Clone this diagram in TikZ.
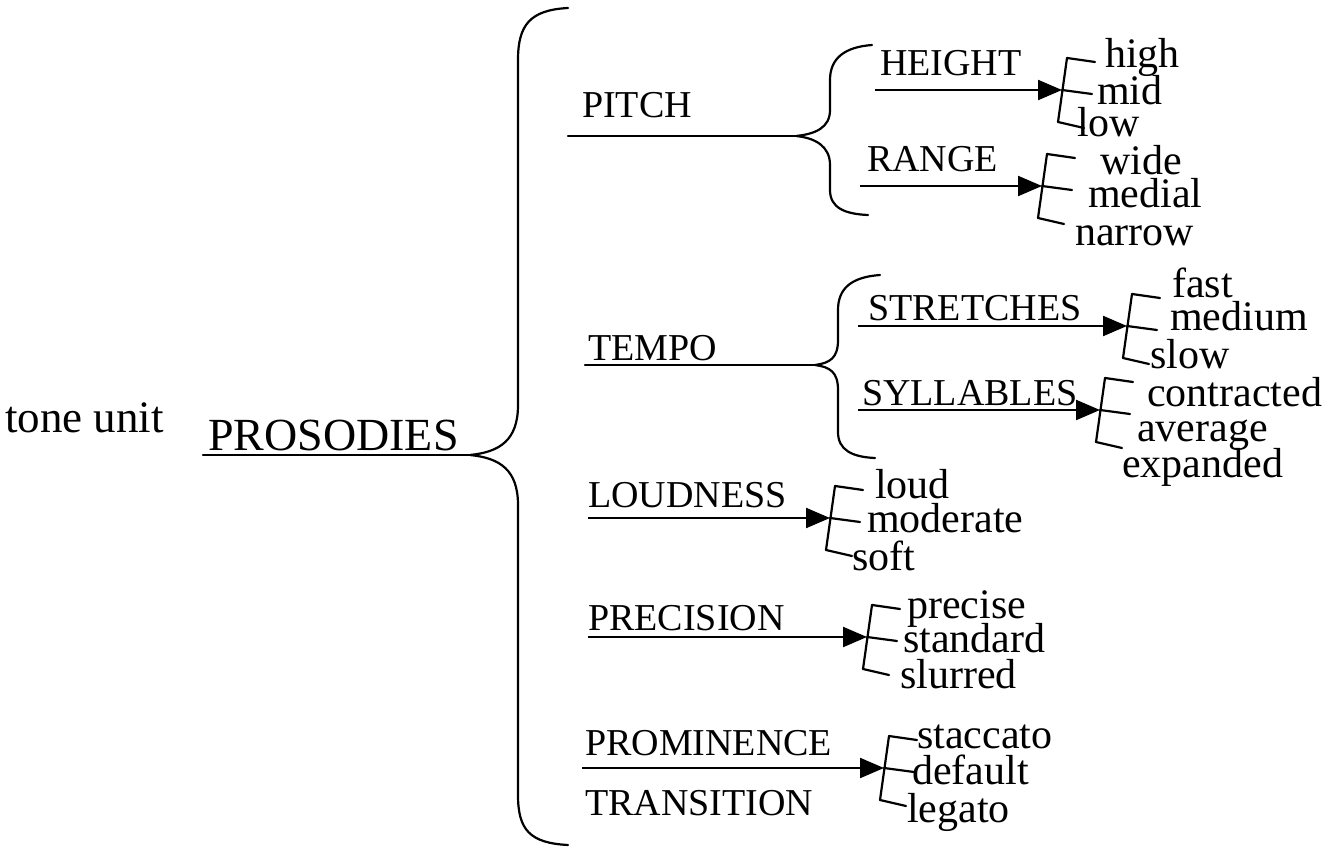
\documentclass[tikz,border=0pt]{standalone}
\usepackage{fontspec}
\setmainfont{Liberation Serif}
\usetikzlibrary{arrows.meta}
\newcommand\mybrk[2]{%
  \draw[ln] (#1+5,#2-32) -- (#1-4,#2+32);
  \draw[ln] (#1+5,#2-32) -- (#1+33,#2-28);
  \draw[ln] (#1,#2) -- (#1+30,#2+4);
  \draw[ln] (#1-4,#2+32) -- (#1+22,#2+38);}
\begin{document}
\begin{tikzpicture}[x=1pt,y=-1pt,
  ln/.style={line width=2.2pt,line cap=round, line join=round},
  arr/.style={line width=2.2pt,-{Triangle[length=24pt,width=20pt]}},
  caplbl/.style={anchor=base west,inner sep=0pt,font=\fontsize{38}{38}\selectfont},
  val/.style={anchor=base west,inner sep=0pt,font=\fontsize{42}{42}\selectfont}]
\useasboundingbox (0,0) rectangle (1328,853);
\node[anchor=base west,inner sep=0pt,font=\fontsize{45}{45}\selectfont] (tu) at (5,432) {tone unit};
\node[anchor=base west,inner sep=0pt,font=\fontsize{46}{46}\selectfont] (pr) at (208,450) {PROSODIES};
\draw[ln] (203,455) -- (472,455);
% big brace
\draw[ln] (568,8) .. controls (530,10) and (518,25) .. (518,60) -- (518,405) .. controls (518,440) and (500,452) .. (470,455)
  .. controls (500,458) and (518,470) .. (518,505) -- (518,795) .. controls (518,830) and (530,843) .. (568,845);
% PITCH
\node[caplbl] (pitch) at (582,118) {PITCH};
\draw[ln] (568,136) -- (796,136);
\draw[ln] (872,45) .. controls (845,47) and (830,58) .. (830,80) -- (830,110) .. controls (830,128) and (815,134) .. (796,136)
  .. controls (815,138) and (830,146) .. (830,165) -- (830,190) .. controls (830,208) and (845,214) .. (868,215);
\node[caplbl] (height) at (880,76) {HEIGHT};
\draw[arr] (875,90) -- (1062,90);
\mybrk{1062}{90}
\node[val] (high) at (1105,68) {high};
\node[val] (mid) at (1097,105) {mid};
\node[val] (low) at (1077,137) {low};
\node[caplbl] (range) at (867,172) {RANGE};
\draw[arr] (860,186) -- (1042,186);
\mybrk{1042}{186}
\node[val] (wide) at (1100,175) {wide};
\node[val] (medial) at (1088,208) {medial};
\node[val] (narrow) at (1075,245) {narrow};
% TEMPO
\node[caplbl] (tempo) at (588,360) {TEMPO};
\draw[ln] (585,365) -- (815,365);
\draw[ln] (880,275) .. controls (852,277) and (838,288) .. (838,310) -- (838,340) .. controls (838,358) and (830,363) .. (815,365)
  .. controls (830,367) and (838,372) .. (838,390) -- (838,432) .. controls (838,450) and (852,457) .. (875,458);
\node[caplbl] (str) at (868,320) {STRETCHES};
\draw[arr] (858,326) -- (1127,326);
\mybrk{1127}{326}
\node[val] (fast) at (1172,297) {fast};
\node[val] (medium) at (1170,330) {medium};
\node[val] (slow) at (1150,368) {slow};
\node[caplbl] (syl) at (862,405) {SYLLABLES};
\draw[arr] (858,410) -- (1100,410);
\mybrk{1100}{410}
\node[val] (contr) at (1147,406) {contracted};
\node[val] (aver) at (1137,441) {average};
\node[val] (exp) at (1122,477) {expanded};
% LOUDNESS
\node[caplbl] (loud) at (588,507) {LOUDNESS};
\draw[arr] (588,518) -- (830,518);
\mybrk{830}{518}
\node[val] (l1) at (875,498) {loud};
\node[val] (l2) at (867,532) {moderate};
\node[val] (l3) at (852,570) {soft};
% PRECISION
\node[caplbl] (prec) at (588,630) {PRECISION};
\draw[arr] (588,637) -- (867,637);
\mybrk{867}{637}
\node[val] (p1) at (907,618) {precise};
\node[val] (p2) at (903,652) {standard};
\node[val] (p3) at (900,688) {slurred};
% PROMINENCE
\node[caplbl] (prom) at (585,755) {PROMINENCE};
\node[caplbl] (trans) at (585,815) {TRANSITION};
\draw[arr] (582,768) -- (884,768);
\mybrk{884}{768}
\node[val] (s1) at (917,748) {staccato};
\node[val] (s2) at (912,784) {default};
\node[val] (s3) at (907,822) {legato};
\end{tikzpicture}
\end{document}
